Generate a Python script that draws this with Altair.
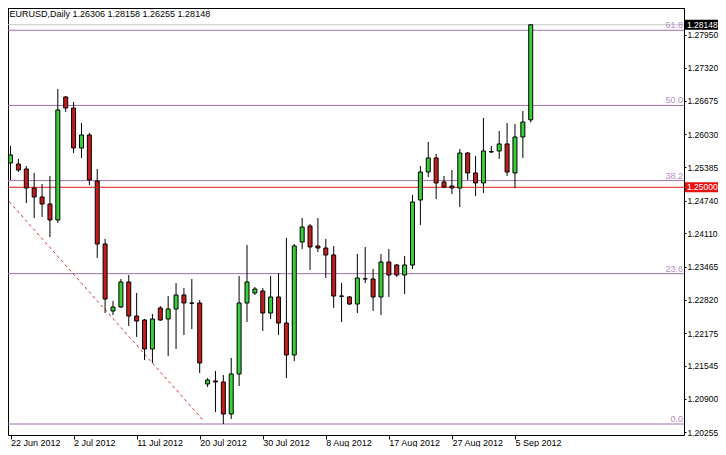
import altair as alt
import pandas as pd

# ---------------- data ----------------
tick_labels = ["22 Jun 2012", "2 Jul 2012", "11 Jul 2012", "20 Jul 2012", "30 Jul 2012",
               "8 Aug 2012", "17 Aug 2012", "27 Aug 2012", "5 Sep 2012"]
tick_index = [0, 8, 16, 24, 32, 40, 48, 56, 64]

opens = [1.25471, 1.25451, 1.25354, 1.24986, 1.24812, 1.24676, 1.24367, 1.26749, 1.26536, 1.25761,
         1.26013, 1.25122, 1.23902, 1.22604, 1.22681, 1.23166, 1.22507, 1.22430, 1.21868, 1.22662,
         1.22449, 1.22643, 1.22914, 1.22759, 1.22759, 1.21190, 1.21248, 1.21229, 1.20609, 1.21384,
         1.22759, 1.22953, 1.22991, 1.22565, 1.22875, 1.22371, 1.21752, 1.23940, 1.24250, 1.23863,
         1.23824, 1.23689, 1.22894, 1.22875, 1.22739, 1.23224, 1.23224, 1.22875, 1.23553, 1.23495,
         1.23301, 1.23495, 1.24754, 1.25296, 1.25568, 1.25103, 1.25025, 1.24986, 1.25664, 1.25277,
         1.25083, 1.25684, 1.25703, 1.25839, 1.25277, 1.25974, 1.26306]
highs = [1.25800, 1.25548, 1.25413, 1.25277, 1.25064, 1.25219, 1.26904, 1.26768, 1.26652, 1.26245,
         1.26052, 1.25354, 1.23999, 1.22798, 1.23224, 1.23301, 1.22953, 1.22449, 1.22546, 1.22701,
         1.22894, 1.23146, 1.23049, 1.23224, 1.22817, 1.21306, 1.21442, 1.21364, 1.21694, 1.23282,
         1.23882, 1.23069, 1.23049, 1.23282, 1.23340, 1.24018, 1.23902, 1.24405, 1.24289, 1.24405,
         1.23999, 1.23863, 1.23146, 1.22894, 1.23708, 1.23844, 1.23417, 1.23708, 1.23805, 1.23514,
         1.23669, 1.24851, 1.25413, 1.25877, 1.25645, 1.25219, 1.25335, 1.25742, 1.25684, 1.25606,
         1.26342, 1.25800, 1.26091, 1.26245, 1.26226, 1.26478, 1.28158]
lows = [1.25141, 1.25296, 1.24696, 1.24405, 1.24425, 1.24037, 1.24308, 1.26459, 1.25664, 1.25568,
        1.25045, 1.23631, 1.22565, 1.22526, 1.22662, 1.22313, 1.22100, 1.21655, 1.21597, 1.22410,
        1.21732, 1.21868, 1.22139, 1.22255, 1.21403, 1.21132, 1.20648, 1.20415, 1.20512, 1.21151,
        1.22391, 1.22914, 1.22217, 1.22449, 1.22139, 1.21306, 1.21635, 1.23805, 1.23398, 1.23747,
        1.23243, 1.22662, 1.22391, 1.22720, 1.22565, 1.23146, 1.22604, 1.22526, 1.22875, 1.23262,
        1.22933, 1.23417, 1.24270, 1.25199, 1.24773, 1.24986, 1.24870, 1.24618, 1.25141, 1.24831,
        1.24890, 1.25664, 1.25548, 1.25219, 1.24986, 1.25568, 1.26255]
closes = [1.25626, 1.25335, 1.24986, 1.24812, 1.24676, 1.24367, 1.26497, 1.26536, 1.25761, 1.26013,
          1.25141, 1.23902, 1.22836, 1.22681, 1.23166, 1.22507, 1.22410, 1.21868, 1.22449, 1.22430,
          1.22643, 1.22914, 1.22759, 1.22755, 1.21597, 1.21267, 1.21229, 1.20609, 1.21384, 1.22759,
          1.23166, 1.23030, 1.22565, 1.22875, 1.22371, 1.21752, 1.23863, 1.24231, 1.23844, 1.23824,
          1.23689, 1.22894, 1.22890, 1.22739, 1.23243, 1.23228, 1.22875, 1.23553, 1.23301, 1.23301,
          1.23495, 1.24715, 1.25296, 1.25568, 1.25083, 1.25006, 1.24986, 1.25664, 1.25277, 1.25083,
          1.25703, 1.25690, 1.25839, 1.25296, 1.25974, 1.26265, 1.28148]

price_ticks = [1.27950, 1.27320, 1.26675, 1.26030, 1.25385, 1.24740, 1.24110,
               1.23465, 1.22820, 1.22175, 1.21545, 1.20900, 1.20255]

fib_levels = ["0.0", "23.6", "38.2", "50.0", "61.8"]
fib_prices = [1.20415, 1.23327, 1.25129, 1.26585, 1.28041]

trend_index = [-0.16, 24.6]
trend_price = [1.24721, 1.20460]

last_close = 1.28148
round_level = 1.25000
title_text = "EURUSD,Daily  1.26306 1.28158 1.26255 1.28148"

# ---------------- frames ----------------
candles = pd.DataFrame({"i": list(range(len(opens))), "o": opens, "h": highs,
                        "l": lows, "c": closes})
fib = pd.DataFrame({"p": fib_prices, "lab": fib_levels})
trend = pd.DataFrame({"i": trend_index, "p": trend_price})
marks_df = pd.DataFrame({"p": [last_close, round_level],
                         "lab": [f"{last_close:.5f}", f"{round_level:.5f}"],
                         "kind": ["close", "level"]})
title_df = pd.DataFrame({"t": [title_text]})

W, H = 676, 431
FONT = "Liberation Sans"
xs = alt.Scale(domain=[0.3125, 84.8125], nice=False, zero=False)
ys = alt.Scale(domain=[1.20202, 1.28550], nice=False, zero=False)

label_js = "[" + ",".join("'" + s + "'" for s in tick_labels) + "]"
x_axis = alt.Axis(values=tick_index, labelExpr=label_js + "[round(datum.value/8)]",
                  orient="bottom", tickSize=4, labelPadding=-1, labelAlign="left",
                  labelBaseline="top", labelFontSize=9, labelFont=FONT, labelColor="black",
                  tickColor="black", domain=False, grid=False, title=None,
                  labelFlush=False, labelOverlap=False)
y_axis = alt.Axis(values=price_ticks, format=".5f", orient="right", tickSize=2,
                  labelPadding=1, labelFontSize=8.5, labelFont=FONT, labelColor="black",
                  tickColor="black", domain=False, grid=False, title=None,
                  labelOverlap=False, labelFlush=False, labelBaseline="middle")


def X(field):
    return alt.X(field, type="quantitative", scale=xs, axis=x_axis)


def Y(field):
    return alt.Y(field, type="quantitative", scale=ys, axis=y_axis)


FIB_LINE = "#a070b0"
FIB_TEXT = "#b48cc8"

fib_lines = alt.Chart(fib).mark_rule(color=FIB_LINE, strokeWidth=1).encode(y=Y("p"))
fib_text = alt.Chart(fib).mark_text(align="right", baseline="alphabetic", dy=-2,
                                    fontSize=9, font=FONT, color=FIB_TEXT).encode(
    x=alt.value(675), y=Y("p"), text="lab:N")

close_line = alt.Chart(marks_df[marks_df.kind == "close"]).mark_rule(
    color="#c4c4c4", strokeWidth=1).encode(y=Y("p"))
level_line = alt.Chart(marks_df[marks_df.kind == "level"]).mark_rule(
    color="#e01818", strokeWidth=1).encode(y=Y("p"))

trend_line = alt.Chart(trend).mark_line(color="#d83030", strokeWidth=1,
                                        strokeDash=[3, 3], clip=True).encode(
    x=X("i"), y=Y("p"))

wicks = alt.Chart(candles).mark_rule(color="black", strokeWidth=1).encode(
    x=X("i"), y=Y("l"), y2="h")
bodies = alt.Chart(candles).mark_bar(size=4, stroke="black", strokeWidth=1).encode(
    x=X("i"), y=Y("o"), y2="c",
    color=alt.condition("datum.c >= datum.o", alt.value("#38d038"), alt.value("#c41c1c")))

box_shape = "M-1,-0.3L1,-0.3L1,0.3L-1,0.3Z"
boxes = alt.Chart(marks_df).mark_point(shape=box_shape, size=1089, filled=True,
                                       strokeWidth=0, opacity=1).encode(
    x=alt.value(693.5), y=Y("p"),
    color=alt.Color("kind:N", scale=alt.Scale(domain=["close", "level"],
                                              range=["#000000", "#e81010"]), legend=None))
box_text = alt.Chart(marks_df).mark_text(align="left", baseline="middle", fontSize=8.5,
                                         font=FONT, color="white").encode(
    x=alt.value(679), y=Y("p"), text="lab:N")

title = alt.Chart(title_df).mark_text(align="left", baseline="middle", fontSize=9,
                                      font=FONT, color="black").encode(
    x=alt.value(1.5), y=alt.value(10), text="t:N")

top_border = alt.Chart(title_df).mark_rule(color="black", strokeWidth=1).encode(
    y=alt.value(4.5))

chart = alt.layer(
    fib_lines, close_line, level_line, trend_line, wicks, bodies,
    fib_text, boxes, box_text, title, top_border
).properties(
    width=W, height=H,
    padding={"left": 0, "top": -4, "right": 34, "bottom": 12},
    autosize=alt.AutoSizeParams(type="none"),
    background="white",
).configure_view(stroke="black", strokeWidth=1)

chart.save("out.html", embed_options={"renderer": "svg", "actions": False})
